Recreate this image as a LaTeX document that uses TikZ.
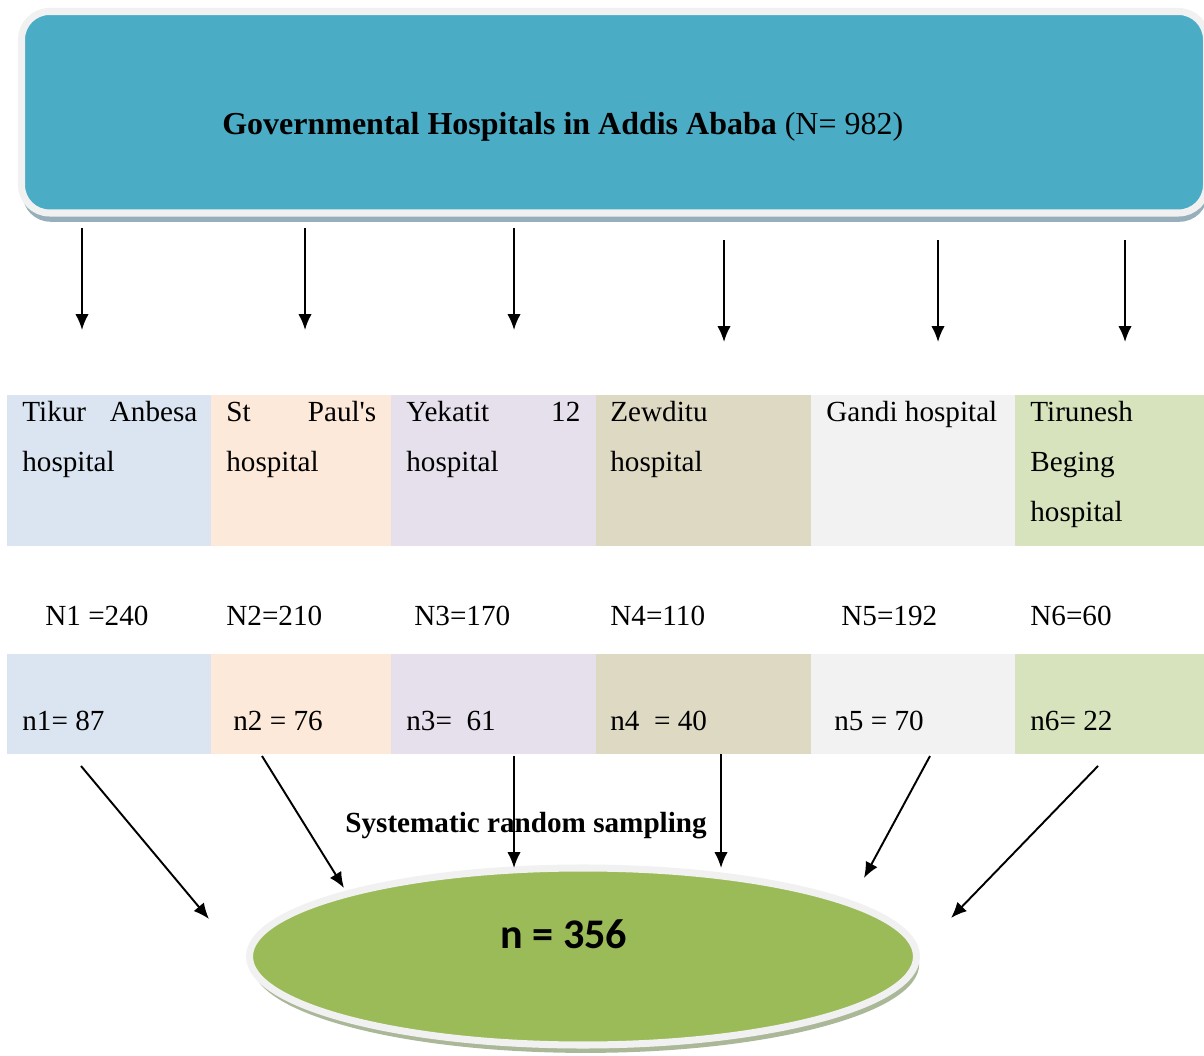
\documentclass[tikz,border=0pt]{standalone}
\usepackage{fontspec}
\setmainfont{Liberation Serif}[Ligatures=TeXOff]
\newfontfamily\calfont{Carlito}
\usepackage{xcolor}
\usepackage{tikz}
\usetikzlibrary{arrows.meta,shapes.geometric,shadows}
\definecolor{hubblue}{RGB}{75,172,198}
\definecolor{hubshade}{RGB}{150,175,186}
\definecolor{rim}{RGB}{241,241,241}
\definecolor{pale1}{RGB}{219,229,241}
\definecolor{pale2}{RGB}{253,233,217}
\definecolor{pale3}{RGB}{229,224,236}
\definecolor{pale4}{RGB}{221,217,195}
\definecolor{pale5}{RGB}{242,242,242}
\definecolor{pale6}{RGB}{215,227,188}
\definecolor{leaf}{RGB}{155,187,89}
\definecolor{leafshade}{RGB}{170,184,152}

\begin{document}
\begin{tikzpicture}[>={Latex[length=9pt,width=7.6pt]},every node/.style={font=\fontsize{16.6}{28.45}\selectfont,inner sep=0pt},
  hub/.style={rectangle,rounded corners=0.56cm,fill=hubblue,draw=rim,line width=4pt,minimum width=23.7cm,minimum height=4.03cm,
    drop shadow={shadow xshift=0.6pt,shadow yshift=-5pt,fill=hubshade,opacity=1}},
  pool/.style={ellipse,fill=leaf,draw=rim,line width=4pt,minimum width=13.34cm,minimum height=3.54cm,
    drop shadow={shadow xshift=1.5pt,shadow yshift=-4.5pt,fill=leafshade,opacity=1}},
  ward/.style={rectangle,anchor=north west,minimum height=3.02cm},
  quota/.style={rectangle,anchor=north west,minimum height=2cm},
  wardname/.style={anchor=base west,align=left},
  flow/.style={->,line width=1.1pt}]
\useasboundingbox (0,0) rectangle (24.08,21.1);

\node[hub] (hub) at (12.28,18.855) {};
\node[anchor=base west,font=\fontsize{18.2}{22}\selectfont] (title) at (4.44,18.4) {\textbf{Governmental Hospitals in Addis Ababa} (N= 982)};

\foreach \x/\w/\c [count=\i] in {0.14/4.09/pale1,4.22/3.61/pale2,7.82/4.11/pale3,11.92/4.31/pale4,16.22/4.09/pale5,20.3/3.8/pale6}{
  \node[ward,fill=\c,minimum width=\w cm] (w\i) at (\x,13.2) {};
  \node[quota,fill=\c,minimum width=\w cm] (q\i) at (\x,8.02) {};
}

\node[wardname,text width=3.5cm] (t1) at (0.44,12.66) {Tikur\hfill Anbesa\\hospital};
\node[wardname,text width=3.0cm] (t2) at (4.52,12.66) {St\hfill Paul's\\hospital};
\node[wardname,text width=3.48cm] (t3) at (8.12,12.66) {Yekatit\hfill 12\\hospital};
\node[wardname,text width=3.5cm] (t4) at (12.2,12.66) {Zewditu\\hospital};
\node[anchor=base west] (t5) at (16.52,12.66) {Gandi hospital};
\node[wardname,text width=3.2cm] (t6) at (20.6,12.66) {Tirunesh\\Beging\\hospital};

\foreach \x/\txt [count=\i] in {0.9/{N1 =240},4.52/{N2=210},8.28/{N3=170},12.2/{N4=110},16.82/{N5=192},20.6/{N6=60}}
  \node[anchor=base west] (N\i) at (\x,8.58) {\txt};

\foreach \x/\txt [count=\i] in {0.44/{n1= 87},4.66/{n2 = 76},8.12/{n3=\ \ 61},12.2/{n4\ \ = 40},16.68/{n5 = 70},20.6/{n6= 22}}
  \node[anchor=base west] (s\i) at (\x,6.48) {\txt};

\node[pool] (pool) at (11.66,1.97) {};
\node[anchor=base west,font=\calfont\bfseries\fontsize{24}{28}\selectfont] (total) at (10.0,2.14) {n = 356};
\node[anchor=base west,font=\bfseries\fontsize{16.6}{20}\selectfont] (method) at (6.9,4.44) {Systematic random sampling};

\foreach \x/\ya/\yb [count=\i] in {1.64/16.54/14.5,6.1/16.54/14.5,10.28/16.54/14.5,14.48/16.3/14.26,18.76/16.3/14.26,22.5/16.3/14.26}{
  \coordinate (a\i) at (\x,\ya);
  \coordinate (b\i) at (\x,\yb);
  \draw[flow] (a\i) -- (b\i);
}

\foreach \xa/\ya/\xb/\yb [count=\i] in {1.62/5.78/4.18/2.72,5.24/5.98/6.88/3.34,10.28/5.98/10.28/3.74,14.42/6.02/14.42/3.74,18.6/5.98/17.28/3.54,21.96/5.78/19.02/2.74}{
  \coordinate (c\i) at (\xa,\ya);
  \coordinate (d\i) at (\xb,\yb);
  \draw[flow] (c\i) -- (d\i);
}
\end{tikzpicture}
\end{document}
